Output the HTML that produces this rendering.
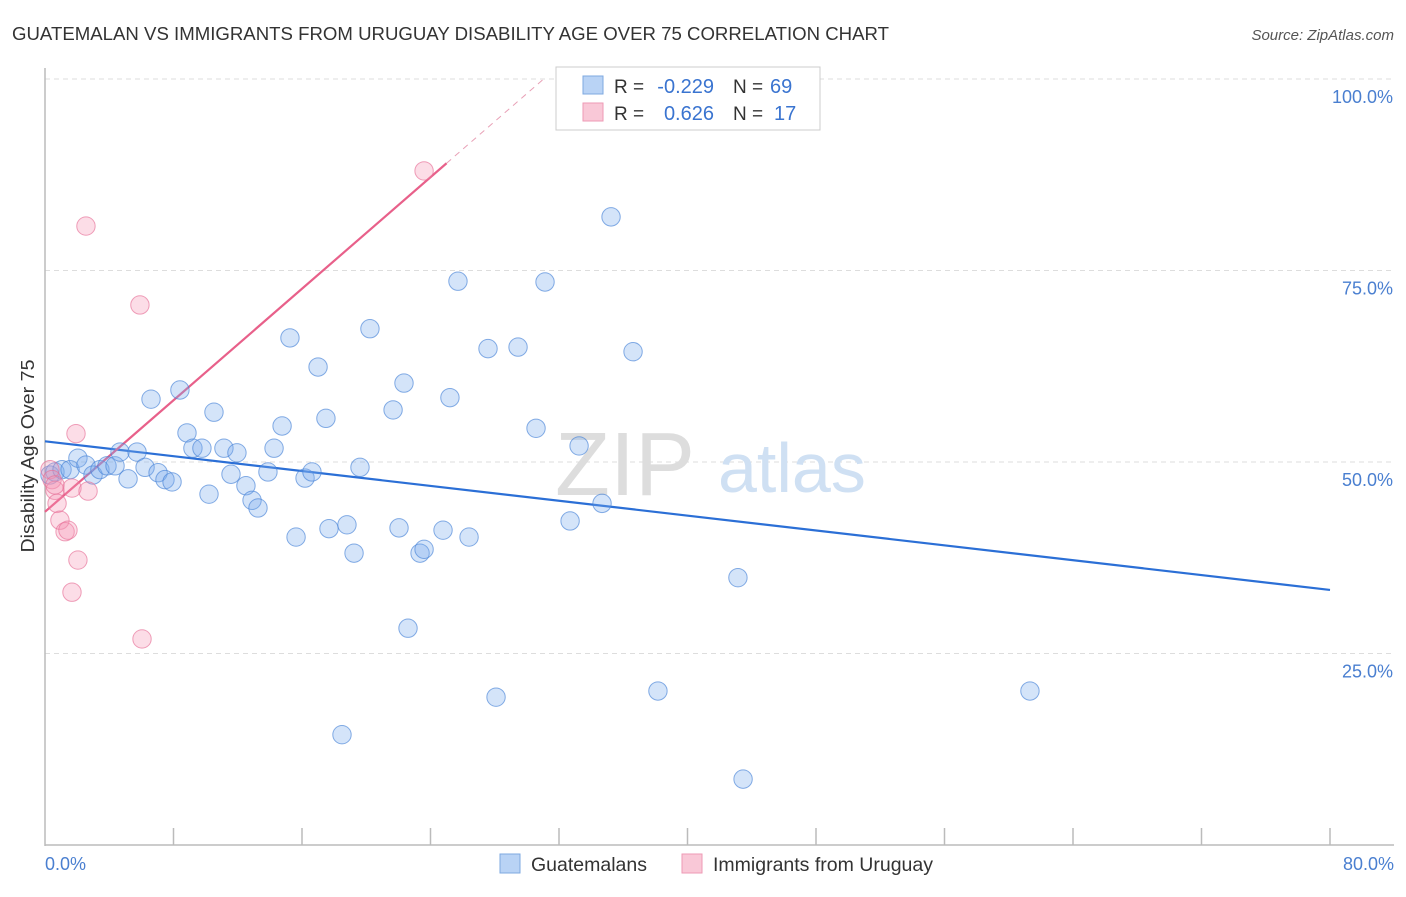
<!DOCTYPE html>
<html><head><meta charset="utf-8">
<style>
body{margin:0;background:#fff;font-family:"Liberation Sans",sans-serif;}
svg text{font-family:"Liberation Sans",sans-serif;}
</style></head>
<body>
<svg id="chart" width="1406" height="892">
<text x="12" y="40" font-size="18" fill="#333" textLength="877" lengthAdjust="spacingAndGlyphs">GUATEMALAN VS IMMIGRANTS FROM URUGUAY DISABILITY AGE OVER 75 CORRELATION CHART</text>
<text x="1394" y="40" font-size="15" fill="#555" font-style="italic" text-anchor="end">Source: ZipAtlas.com</text>
<text x="0" y="0" font-size="18" fill="#333" text-anchor="middle" textLength="193" lengthAdjust="spacingAndGlyphs" transform="translate(34,456) rotate(-90)">Disability Age Over 75</text>
<g id="grid"></g>
<line x1="45" y1="68" x2="45" y2="846" stroke="#bbb" stroke-width="1.5"/>
<line x1="45" y1="845" x2="1394" y2="845" stroke="#bbb" stroke-width="1.5"/>
<text x="45" y="870" font-size="18" fill="#4a7fd0">0.0%</text>
<text x="1394" y="870" font-size="18" fill="#4a7fd0" text-anchor="end">80.0%</text>
<text x="555" y="495" font-size="90" fill="#ddd" font-family="Liberation Serif">ZIP</text>
<text x="718" y="492" font-size="70" fill="#cfe0f3">atlas</text>
<g id="trends"></g>
<g id="points"></g>
<g>
<rect x="556" y="67" width="264" height="63" fill="#fff" stroke="#ccc"/>
<rect x="583" y="76" width="20" height="18" fill="#b9d3f5" stroke="#7ea8e0"/>
<rect x="583" y="103" width="20" height="18" fill="#f9c8d7" stroke="#ee9ab4"/>
<text x="614" y="93" font-size="19" fill="#333">R =</text>
<text x="714" y="93" font-size="20" fill="#3a74d0" text-anchor="end">-0.229</text>
<text x="733" y="93" font-size="19" fill="#333">N =</text>
<text x="770" y="93" font-size="20" fill="#3a74d0">69</text>
<text x="614" y="120" font-size="19" fill="#333">R =</text>
<text x="714" y="120" font-size="20" fill="#3a74d0" text-anchor="end">0.626</text>
<text x="733" y="120" font-size="19" fill="#333">N =</text>
<text x="774" y="120" font-size="20" fill="#3a74d0">17</text>
</g>
<g>
<rect x="500" y="854" width="20" height="19" fill="#b9d3f5" stroke="#7ea8e0"/>
<text x="531" y="871" font-size="19.5" fill="#333">Guatemalans</text>
<rect x="682" y="854" width="20" height="19" fill="#f9c8d7" stroke="#ee9ab4"/>
<text x="713" y="871" font-size="19.5" fill="#333">Immigrants from Uruguay</text>
</g>
</svg>
<script>
const blueX=[0.31,0.62,1.06,1.56,2.05,2.55,2.99,3.42,3.86,4.36,4.67,5.17,5.73,6.23,6.60,7.04,7.47,7.91,8.40,8.84,9.21,9.77,10.21,10.52,11.14,11.58,11.95,12.51,12.89,13.26,13.88,14.26,14.76,15.25,15.63,16.19,16.62,17.00,17.49,17.68,18.49,18.80,19.24,19.61,20.23,21.67,22.04,22.35,22.60,23.35,23.60,24.78,25.21,25.71,26.40,27.58,28.08,29.45,30.57,31.13,32.69,33.25,34.68,35.24,36.61,38.16,43.14,43.46,61.32];
const blueY=[48.3,48.7,49.0,49.0,50.5,49.6,48.3,49.0,49.5,49.5,51.3,47.8,51.3,49.3,58.2,48.6,47.7,47.4,59.4,53.8,51.8,51.8,45.8,56.5,51.8,48.4,51.2,46.9,45.0,44.0,48.7,51.8,54.7,66.2,40.2,47.9,48.7,62.4,55.7,41.3,14.4,41.8,38.1,49.3,67.4,56.8,41.4,60.3,28.3,38.1,38.6,41.1,58.4,73.6,40.2,64.8,19.3,65.0,54.4,73.5,42.3,52.1,44.6,82.0,64.4,20.1,34.9,8.6,20.1];
const pinkX=[0.31,0.44,0.62,0.75,0.93,1.25,1.43,1.68,1.93,2.05,1.68,2.55,2.68,5.91,6.04,23.60,0.62];
const pinkY=[49.0,47.7,46.3,44.6,42.4,40.9,41.1,46.6,53.7,37.2,33.0,80.8,46.2,70.5,26.9,88.0,47.0];
const blueTrend=[52.7,-0.2425];
const pinkTrend=[43.5,1.82];
const yTicks=[25,50,75,100];
const yTickLabels=["25.0%","50.0%","75.0%","100.0%"];
const xTicks=[0,8,16,24,32,40,48,56,64,72,80];

const NS="http://www.w3.org/2000/svg";
const sx=v=>45+v*16.0625;
const sy=v=>845-v*7.66;
function mk(tag,attrs,parent){const e=document.createElementNS(NS,tag);for(const k in attrs)e.setAttribute(k,attrs[k]);parent.appendChild(e);return e;}
const grid=document.getElementById('grid');
yTicks.forEach((t,i)=>{
  const l=mk('line',{x1:45,x2:1394,y1:sy(t),y2:sy(t),stroke:'#ddd','stroke-dasharray':'5,4'},grid);
  
  
  const tx=mk('text',{x:1393,y:sy(t)+24,'font-size':18,fill:'#4a7fd0','text-anchor':'end'},grid);
  tx.textContent=yTickLabels[i];
  
  
});
xTicks.forEach(t=>{
  if(t===0)return;
  const l=mk('line',{x1:sx(t),x2:sx(t),y1:828,y2:845,stroke:'#bbb','stroke-width':1.5},grid);
  
  
});
const tr=document.getElementById('trends');
const b=mk('line',{x1:sx(0),y1:sy(blueTrend[0]),x2:sx(80),y2:sy(blueTrend[0]+80*blueTrend[1]),stroke:'#2b6fd6','stroke-width':2.2},tr);


const pEnd=25;
const p=mk('line',{x1:sx(0),y1:sy(pinkTrend[0]),x2:sx(pEnd),y2:sy(pinkTrend[0]+pEnd*pinkTrend[1]),stroke:'#e8608a','stroke-width':2.2},tr);


const pEnd2=(100-pinkTrend[0])/pinkTrend[1];
const pd=mk('line',{x1:sx(pEnd),y1:sy(pinkTrend[0]+pEnd*pinkTrend[1]),x2:sx(pEnd2),y2:sy(100),stroke:'#e8a0b6','stroke-width':1,'stroke-dasharray':'6,5'},tr);


const pts=document.getElementById('points');
blueX.forEach((x,i)=>{
  const c=mk('circle',{cx:sx(x),cy:sy(blueY[i]),r:9.2,fill:'rgba(120,170,235,0.32)',stroke:'rgba(70,130,215,0.65)','stroke-width':1},pts);
  
  
});
pinkX.forEach((x,i)=>{
  const c=mk('circle',{cx:sx(x),cy:sy(pinkY[i]),r:9.2,fill:'rgba(245,150,180,0.32)',stroke:'rgba(230,110,150,0.65)','stroke-width':1},pts);
  
  
});
</script>
</body></html>
